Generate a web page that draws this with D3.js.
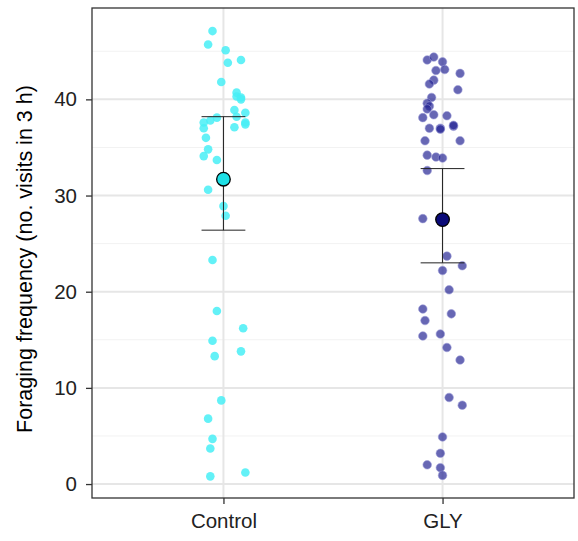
<!DOCTYPE html>
<html>
<head>
<meta charset="utf-8">
<script src="https://cdn.jsdelivr.net/npm/d3@7"></script>
<style>
  body { margin: 0; background: #fff; }
  text { font-family: "Liberation Sans", Arial, sans-serif; }
</style>
</head>
<body>
<div id="chart"></div>
<script>
// groups and tick labels
var groups = ["Control", "GLY"];
var yTicks = [0, 10, 20, 30, 40];
var yMinor = [5, 15, 25, 35, 45];

// raw points: [horizontal jitter offset (in category units), value]
var controlPts = [
  [-0.05, 47.1], [-0.07, 45.7], [0.01, 45.1], [0.02, 43.8], [0.08, 44.1],
  [-0.01, 41.8], [0.06, 40.7], [0.06, 40.3], [0.08, 40.2], [0.08, 40.0],
  [0.05, 38.9], [0.10, 38.6], [0.06, 38.2], [-0.03, 38.1], [-0.06, 37.8],
  [-0.09, 37.6], [0.10, 37.6], [0.05, 37.1], [0.10, 37.4], [-0.09, 37.0],
  [-0.08, 36.0], [-0.07, 34.8], [-0.09, 34.1], [-0.03, 33.7], [-0.07, 30.6],
  [0.00, 28.9], [0.01, 27.9], [-0.05, 23.3], [-0.03, 18.0], [0.09, 16.2],
  [-0.05, 14.9], [0.08, 13.8], [-0.04, 13.3], [-0.01, 8.7], [-0.07, 6.8],
  [-0.05, 4.7], [-0.06, 3.7], [0.10, 1.2], [-0.06, 0.8]
];
var glyPts = [
  [-0.07, 44.1], [-0.04, 44.4], [0.00, 43.9], [-0.03, 43.0], [0.01, 43.1],
  [0.08, 42.7], [-0.04, 42.0], [-0.06, 41.6], [0.07, 41.0], [-0.05, 40.2],
  [-0.07, 39.6], [-0.06, 39.3], [-0.07, 39.0], [-0.09, 38.1], [-0.04, 38.4],
  [0.02, 38.3], [-0.06, 37.0], [-0.01, 37.0], [-0.01, 36.9], [0.05, 37.2],
  [0.05, 37.3], [-0.08, 35.7], [0.08, 35.7], [-0.07, 34.2], [-0.03, 34.0],
  [0.00, 33.9], [-0.07, 32.6], [-0.09, 27.6], [0.02, 23.7], [0.09, 22.7],
  [0.00, 22.2], [0.03, 20.2], [-0.09, 18.2], [0.04, 17.7], [-0.08, 17.0],
  [-0.09, 15.4], [-0.01, 15.6], [0.02, 14.2], [0.08, 12.9], [0.03, 9.0],
  [0.09, 8.2], [0.00, 4.9], [-0.01, 3.2], [-0.07, 2.0], [-0.01, 1.7], [0.00, 0.9]
];
// summary: mean, lower, upper
var means = [31.7, 27.5];
var lowers = [26.4, 23.0];
var uppers = [38.2, 32.8];

var ptFill = ["#48eef6", "#262694"];
var meanFill = ["#1ee0e6", "#0a0a78"];

var W = 578, H = 541;
var m = { left: 92, right: 4, top: 8, bottom: 43 };
var fontSize = "20.5px";

var svg = d3.select("#chart").append("svg")
  .attr("width", W).attr("height", H);

var y = d3.scaleLinear().domain([-1.45, 49.5]).range([H - m.bottom, m.top]);
var x = d3.scalePoint().domain(groups).range([m.left, W - m.right]).padding(0.6);
var step = x.step();

var g = svg.append("g");

// grid
g.selectAll(".minor").data(yMinor).enter().append("line")
  .attr("x1", m.left).attr("x2", W - m.right)
  .attr("y1", function (d) { return y(d); }).attr("y2", function (d) { return y(d); })
  .attr("stroke", "#f2f2f2").attr("stroke-width", 1);
g.selectAll(".major").data(yTicks).enter().append("line")
  .attr("x1", m.left).attr("x2", W - m.right)
  .attr("y1", function (d) { return y(d); }).attr("y2", function (d) { return y(d); })
  .attr("stroke", "#e6e6e6").attr("stroke-width", 2);
g.selectAll(".vgrid").data(groups).enter().append("line")
  .attr("x1", function (d) { return x(d); }).attr("x2", function (d) { return x(d); })
  .attr("y1", m.top).attr("y2", H - m.bottom)
  .attr("stroke", "#e6e6e6").attr("stroke-width", 2);

// points
var sets = [controlPts, glyPts];
sets.forEach(function (pts, i) {
  var cx = x(groups[i]);
  g.selectAll(".p" + i).data(pts).enter().append("circle")
    .attr("cx", function (d) { return cx + d[0] * step; })
    .attr("cy", function (d) { return y(d[1]); })
    .attr("r", 4.3)
    .attr("fill", ptFill[i])
    .attr("fill-opacity", i === 0 ? 0.85 : 0.7)
    .attr("stroke", i === 0 ? "none" : "#9a9ad8")
    .attr("stroke-opacity", 0.8)
    .attr("stroke-width", 0.7);
});

// error bars and means
groups.forEach(function (grp, i) {
  var cx = x(grp);
  var hw = 0.1 * step;
  g.append("line").attr("x1", cx).attr("x2", cx)
    .attr("y1", y(lowers[i])).attr("y2", y(uppers[i]))
    .attr("stroke", "#222").attr("stroke-width", 1);
  [lowers[i], uppers[i]].forEach(function (v) {
    g.append("line").attr("x1", cx - hw).attr("x2", cx + hw)
      .attr("y1", y(v)).attr("y2", y(v))
      .attr("stroke", "#222").attr("stroke-width", 1);
  });
  g.append("circle").attr("cx", cx).attr("cy", y(means[i])).attr("r", 6.8)
    .attr("fill", meanFill[i]).attr("stroke", "#000").attr("stroke-width", 1.3);
});

// panel border
svg.append("rect").attr("x", m.left).attr("y", m.top)
  .attr("width", W - m.left - m.right).attr("height", H - m.top - m.bottom)
  .attr("fill", "none").attr("stroke", "#333").attr("stroke-width", 1.3);

// axes
var yAxis = svg.append("g").attr("transform", "translate(" + m.left + ",0)")
  .call(d3.axisLeft(y).tickValues(yTicks).tickSize(6).tickPadding(9));
var xAxis = svg.append("g").attr("transform", "translate(0," + (H - m.bottom) + ")")
  .call(d3.axisBottom(x).tickSize(6).tickPadding(9));
[yAxis, xAxis].forEach(function (ax) {
  ax.select(".domain").remove();
  ax.selectAll(".tick line").attr("stroke", "#333").attr("stroke-width", 1.3);
  ax.selectAll("text").attr("fill", "#222").style("font-size", fontSize)
    .style("font-family", "Liberation Sans, Arial, sans-serif");
});

svg.append("text")
  .attr("transform", "translate(32,259) rotate(-90)")
  .attr("text-anchor", "middle")
  .attr("fill", "#000")
  .style("font-size", "21.5px")
  .text("Foraging frequency (no. visits in 3 h)");
</script>
</body>
</html>
